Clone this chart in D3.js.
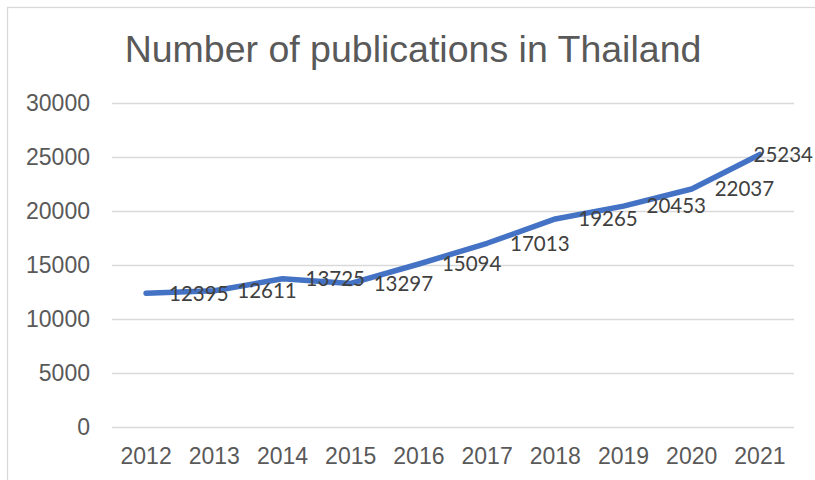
<!DOCTYPE html>
<html>
<head>
<meta charset="utf-8">
<script src="https://cdn.jsdelivr.net/npm/d3@7"></script>
<style>
  body { margin: 0; background: #fff; }
  svg { display: block; }
</style>
</head>
<body>
<svg id="chart"></svg>
<script>
// data
var years = ["2012", "2013", "2014", "2015", "2016", "2017", "2018", "2019", "2020", "2021"];
var publications = [12395, 12611, 13725, 13297, 15094, 17013, 19265, 20453, 22037, 25234];
var yTicks = [0, 5000, 10000, 15000, 20000, 25000, 30000];

var width = 815, height = 480;
var margin = {top: 103, left: 112, bottom: 53, right: 21};
var innerW = width - margin.left - margin.right;
var innerH = height - margin.top - margin.bottom;

var svg = d3.select("#chart")
    .attr("width", width)
    .attr("height", height);

// chart border (runs off the right and bottom edges)
svg.append("rect")
    .attr("x", 7.5).attr("y", 7.5)
    .attr("width", width + 20).attr("height", height + 20)
    .attr("fill", "#fff")
    .attr("stroke", "#d9d9d9")
    .attr("stroke-width", 1.3);

svg.append("text")
    .attr("x", 413)
    .attr("y", 62)
    .attr("text-anchor", "middle")
    .attr("fill", "#595959")
    .style("font-family", "'Liberation Sans', Arial, sans-serif")
    .style("font-size", "37.5px")
    .text("Number of publications in Thailand");

var g = svg.append("g")
    .attr("transform", "translate(" + margin.left + "," + margin.top + ")");

var x = d3.scaleBand()
    .domain(years)
    .range([0, innerW]);

var y = d3.scaleLinear()
    .domain([0, 30000])
    .range([innerH, 0]);

// gridlines
g.append("g")
    .attr("class", "grid")
    .call(d3.axisLeft(y).tickValues(yTicks).tickSize(-innerW).tickFormat(""))
    .call(function (s) {
        s.select(".domain").remove();
        s.selectAll("line").attr("stroke", "#d9d9d9").attr("stroke-width", 1.3);
    });

// y labels
g.append("g")
    .call(d3.axisLeft(y).tickValues(yTicks).tickSize(0).tickPadding(22).tickFormat(d3.format("d")))
    .call(function (s) {
        s.select(".domain").remove();
        s.selectAll("text")
            .attr("fill", "#595959")
            .style("font-family", "'Liberation Sans', Arial, sans-serif")
            .style("font-size", "23px");
    });

// x labels
g.append("g")
    .attr("transform", "translate(0," + innerH + ")")
    .call(d3.axisBottom(x).tickSize(0).tickPadding(21))
    .call(function (s) {
        s.select(".domain").remove();
        s.selectAll("text")
            .attr("fill", "#595959")
            .style("font-family", "'Liberation Sans', Arial, sans-serif")
            .style("font-size", "23px");
    });

var cx = function (d, i) { return x(years[i]) + x.bandwidth() / 2; };

var line = d3.line()
    .x(cx)
    .y(function (d) { return y(d); });

g.append("path")
    .datum(publications)
    .attr("fill", "none")
    .attr("stroke", "#4472c4")
    .attr("stroke-width", 5.5)
    .attr("stroke-linejoin", "round")
    .attr("stroke-linecap", "round")
    .attr("d", line);

// data labels, to the right of each point, kept inside the chart
var labels = g.append("g").selectAll("text")
    .data(publications)
    .join("text")
    .attr("x", function (d, i) { return cx(d, i) + 23; })
    .attr("y", function (d) { return y(d); })
    .attr("dy", "0.36em")
    .attr("fill", "#404040")
    .style("font-family", "Lato, 'Open Sans', sans-serif")
    .style("font-size", "20.5px")
    .text(function (d) { return d; });

labels.each(function () {
    var t = d3.select(this);
    var w = this.getComputedTextLength();
    var maxX = width - 2 - margin.left;
    if (+t.attr("x") + w > maxX) t.attr("x", maxX - w);
});
</script>
</body>
</html>
